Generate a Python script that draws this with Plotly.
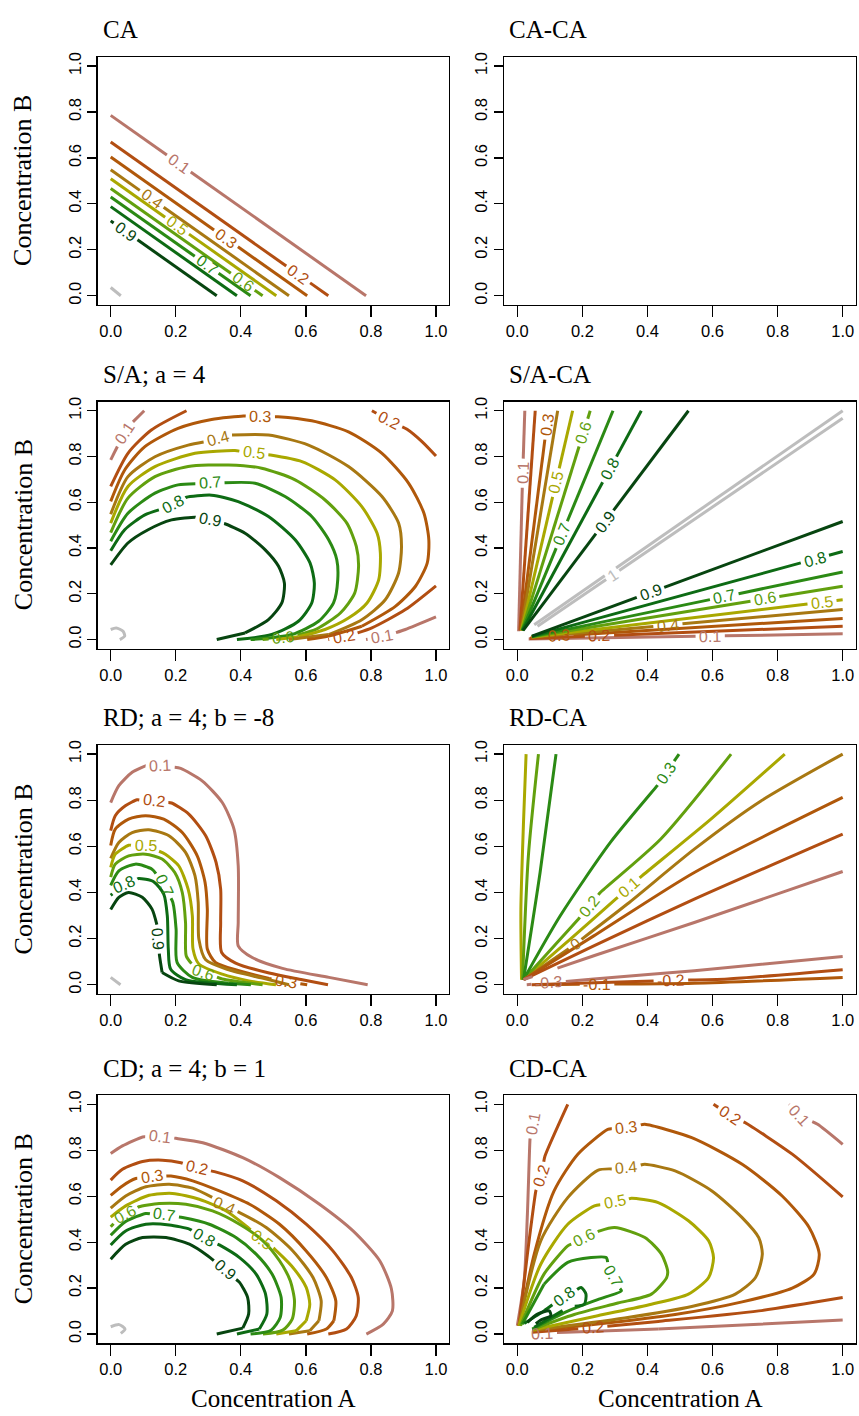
import math
import plotly.graph_objects as go

FIG_W, FIG_H = 859, 1416

# ---------------------------------------------------------------- text / axes
TITLES = ["CA", "CA-CA", "S/A; a = 4", "S/A-CA",
          "RD; a = 4; b = -8", "RD-CA", "CD; a = 4; b = 1", "CD-CA"]
TICK_VALUES = [0.0, 0.2, 0.4, 0.6, 0.8, 1.0]
TICK_LABELS = ["0.0", "0.2", "0.4", "0.6", "0.8", "1.0"]
X_TITLE = "Concentration A"
Y_TITLE = "Concentration B"

# ---------------------------------------------------------------- colours
LEVEL_COLORS = {
    "0.1": "#B8766A", "0.2": "#B24E12", "0.3": "#B0580A", "0.4": "#A87812",
    "0.5": "#A9A800", "0.6": "#62A00E", "0.7": "#2B8A14", "0.8": "#0D6B14",
    "0.9": "#074510", "1": "#BDBDBD",
}
DIFF_COLORS = {
    "-0.3": "#B8766A", "-0.2": "#B24E12", "-0.1": "#B0580A", "0": "#A87812",
    "0.1": "#A9A800", "0.2": "#62A00E", "0.3": "#2B8A14",
}

# ---------------------------------------------------------------- data (contour lines)
# each entry: (level, x values, y values)
CA_LINES = [
    ("0.1", [0.0, 0.785], [0.785, 0.0]),
    ("0.2", [0.0, 0.669], [0.669, 0.0]),
    ("0.3", [0.0, 0.604], [0.604, 0.0]),
    ("0.4", [0.0, 0.548], [0.548, 0.0]),
    ("0.5", [0.0, 0.509], [0.509, 0.0]),
    ("0.6", [0.0, 0.467], [0.467, 0.0]),
    ("0.7", [0.0, 0.430], [0.430, 0.0]),
    ("0.8", [0.0, 0.388], [0.388, 0.0]),
    ("0.9", [0.0, 0.326], [0.326, 0.0]),
    ("1", [0.0, 0.031], [0.036, 0.0]),
]
CA_LABELS = [("0.1", 0.213, 0.583), ("0.2", 0.572, 0.084), ("0.3", 0.346, 0.233),
             ("0.4", 0.115, 0.400), ("0.5", 0.202, 0.301), ("0.6", 0.403, 0.055),
             ("0.7", 0.290, 0.125), ("0.9", 0.038, 0.265)]

CACA_LINES = []
CACA_LABELS = []

SA_LINES = [
    ("0.9", [0, 0.053, 0.115, 0.187, 0.259, 0.305, 0.351, 0.413, 0.475, 0.516, 0.534, 0.526, 0.485, 0.413, 0.326],
            [0.326, 0.422, 0.480, 0.523, 0.535, 0.523, 0.506, 0.465, 0.392, 0.320, 0.247, 0.160, 0.087, 0.029, 0.0]),
    ("0.8", [0, 0.043, 0.105, 0.182, 0.233, 0.310, 0.392, 0.485, 0.567, 0.613, 0.626, 0.618, 0.577, 0.495, 0.388],
            [0.388, 0.480, 0.545, 0.584, 0.622, 0.631, 0.603, 0.538, 0.436, 0.334, 0.247, 0.160, 0.080, 0.022, 0.0]),
    ("0.7", [0, 0.053, 0.136, 0.207, 0.310, 0.444, 0.536, 0.618, 0.670, 0.695, 0.698, 0.685, 0.639, 0.557, 0.430],
            [0.430, 0.552, 0.640, 0.676, 0.686, 0.683, 0.625, 0.538, 0.436, 0.349, 0.262, 0.160, 0.080, 0.022, 0.0]),
    ("0.6", [0, 0.053, 0.136, 0.238, 0.362, 0.464, 0.567, 0.659, 0.726, 0.755, 0.762, 0.750, 0.706, 0.634, 0.557, 0.467],
            [0.467, 0.618, 0.712, 0.756, 0.763, 0.749, 0.698, 0.610, 0.509, 0.407, 0.320, 0.203, 0.116, 0.047, 0.012, 0.0]),
    ("0.5", [0, 0.053, 0.136, 0.259, 0.382, 0.490, 0.588, 0.690, 0.772, 0.819, 0.829, 0.824, 0.788, 0.731, 0.659, 0.577, 0.509],
            [0.509, 0.669, 0.756, 0.814, 0.826, 0.807, 0.778, 0.698, 0.581, 0.465, 0.378, 0.262, 0.160, 0.094, 0.044, 0.012, 0.0]),
    ("0.4", [0, 0.053, 0.136, 0.238, 0.315, 0.372, 0.485, 0.608, 0.731, 0.834, 0.885, 0.894, 0.885, 0.844, 0.772, 0.670, 0.548],
            [0.548, 0.712, 0.799, 0.850, 0.872, 0.894, 0.894, 0.850, 0.756, 0.625, 0.509, 0.407, 0.291, 0.174, 0.087, 0.022, 0.0]),
    ("0.3", [0, 0.043, 0.105, 0.207, 0.310, 0.408, 0.514, 0.618, 0.731, 0.834, 0.916, 0.963, 0.978, 0.973, 0.937, 0.875, 0.772, 0.670, 0.604],
            [0.604, 0.741, 0.843, 0.923, 0.962, 0.977, 0.974, 0.956, 0.908, 0.814, 0.683, 0.552, 0.436, 0.334, 0.233, 0.145, 0.058, 0.015, 0.0]),
    ("0.2", [0, 0.053, 0.125, 0.233], [0.669, 0.814, 0.916, 1.0]),
    ("0.2", [0.803, 0.855, 0.911, 0.957, 1.0], [1.0, 0.959, 0.919, 0.865, 0.802]),
    ("0.2", [0.669, 0.731, 0.803, 0.906, 1.0], [0.0, 0.015, 0.051, 0.131, 0.235]),
    ("0.1", [0, 0.033, 0.064, 0.103], [0.785, 0.879, 0.945, 1.0]),
    ("0.1", [0.785, 0.844, 0.906, 1.0], [0.0, 0.015, 0.044, 0.099]),
    ("1", [0, 0.017, 0.038, 0.043, 0.028], [0.044, 0.051, 0.036, 0.015, 0.0]),
]
SA_LABELS = [("0.1", 0.048, 0.894), ("0.1", 0.834, 0.012), ("0.2", 0.855, 0.955),
             ("0.2", 0.716, 0.010), ("0.3", 0.460, 0.975), ("0.4", 0.330, 0.875),
             ("0.5", 0.440, 0.815), ("0.6", 0.530, 0.010), ("0.7", 0.305, 0.686),
             ("0.8", 0.190, 0.590), ("0.9", 0.305, 0.523)]

SACA_LINES = [
    ("0.1", [0.004, 0.010, 0.023], [0.036, 0.436, 1.0]),
    ("0.2", [0.008, 0.055], [0.040, 1.0]),
    ("0.3", [0.010, 0.096], [0.040, 1.0]),
    ("0.4", [0.012, 0.124], [0.040, 1.0]),
    ("0.5", [0.013, 0.170], [0.040, 1.0]),
    ("0.6", [0.014, 0.224], [0.040, 1.0]),
    ("0.7", [0.015, 0.294], [0.040, 1.0]),
    ("0.8", [0.016, 0.381], [0.040, 1.0]),
    ("0.9", [0.018, 0.526], [0.040, 1.0]),
    ("0.9", [0.045, 1.0], [0.015, 0.516]),
    ("0.8", [0.045, 1.0], [0.014, 0.385]),
    ("0.7", [0.045, 1.0], [0.013, 0.295]),
    ("0.6", [0.045, 1.0], [0.012, 0.233]),
    ("0.5", [0.045, 1.0], [0.011, 0.174]),
    ("0.4", [0.043, 1.0], [0.010, 0.131]),
    ("0.3", [0.041, 1.0], [0.008, 0.092]),
    ("0.2", [0.038, 1.0], [0.005, 0.058]),
    ("0.1", [0.035, 1.0], [0.002, 0.025]),
    ("1", [0.052, 1.0], [0.065, 1.0]),
    ("1", [0.062, 1.0], [0.058, 0.967]),
]
SACA_LABELS = [("0.1", 0.021, 0.727), ("0.3", 0.086, 0.938), ("0.5", 0.127, 0.683),
               ("0.6", 0.211, 0.901), ("0.7", 0.137, 0.458), ("0.8", 0.296, 0.734),
               ("0.9", 0.273, 0.509), ("0.9", 0.412, 0.196), ("0.8", 0.918, 0.334),
               ("0.7", 0.639, 0.167), ("0.6", 0.763, 0.160), ("0.5", 0.938, 0.145),
               ("0.4", 0.464, 0.044), ("0.3", 0.129, 0.000), ("0.2", 0.253, 0.000),
               ("0.1", 0.593, 0.000), ("1", 0.296, 0.276)]

RD_LINES = [
    ("0.1", [0, 0.025, 0.066, 0.107, 0.158, 0.215, 0.281, 0.343, 0.379, 0.392, 0.392, 0.392, 0.435, 0.528, 0.671, 0.790],
            [0.790, 0.863, 0.921, 0.949, 0.952, 0.938, 0.884, 0.790, 0.675, 0.516, 0.270, 0.169, 0.118, 0.071, 0.032, 0.0]),
    ("0.2", [0, 0.014, 0.045, 0.081, 0.132, 0.187, 0.240, 0.292, 0.324, 0.338, 0.338, 0.341, 0.384, 0.487, 0.589, 0.668],
            [0.668, 0.733, 0.776, 0.802, 0.798, 0.788, 0.740, 0.646, 0.530, 0.415, 0.270, 0.140, 0.094, 0.051, 0.022, 0.0]),
    ("0.3", [0, 0.014, 0.055, 0.107, 0.163, 0.220, 0.266, 0.290, 0.297, 0.297, 0.322, 0.394, 0.487, 0.604],
            [0.604, 0.675, 0.718, 0.733, 0.718, 0.660, 0.559, 0.444, 0.328, 0.155, 0.097, 0.061, 0.027, 0.0]),
    ("0.4", [0, 0.025, 0.066, 0.117, 0.179, 0.230, 0.259, 0.269, 0.271, 0.292, 0.363, 0.466, 0.548],
            [0.548, 0.617, 0.660, 0.672, 0.646, 0.574, 0.473, 0.357, 0.198, 0.108, 0.065, 0.029, 0.0]),
    ("0.5", [0, 0.014, 0.055, 0.112, 0.168, 0.209, 0.238, 0.251, 0.253, 0.271, 0.343, 0.425, 0.508],
            [0.509, 0.566, 0.605, 0.603, 0.566, 0.516, 0.415, 0.299, 0.155, 0.090, 0.046, 0.017, 0.0]),
    ("0.6", [0, 0.014, 0.055, 0.107, 0.158, 0.197, 0.220, 0.230, 0.232, 0.261, 0.343, 0.467],
            [0.467, 0.523, 0.559, 0.566, 0.545, 0.487, 0.400, 0.270, 0.126, 0.065, 0.025, 0.0]),
    ("0.7", [0, 0.025, 0.076, 0.127, 0.163, 0.191, 0.201, 0.204, 0.251, 0.363, 0.431],
            [0.431, 0.494, 0.523, 0.501, 0.444, 0.357, 0.241, 0.097, 0.032, 0.007, 0.0]),
    ("0.8", [0, 0.035, 0.086, 0.132, 0.163, 0.174, 0.177, 0.184, 0.230, 0.388],
            [0.388, 0.429, 0.461, 0.447, 0.393, 0.299, 0.155, 0.068, 0.022, 0.0]),
    ("0.9", [0, 0.025, 0.055, 0.097, 0.127, 0.143, 0.150, 0.158, 0.209, 0.326],
            [0.326, 0.379, 0.400, 0.379, 0.328, 0.256, 0.126, 0.053, 0.017, 0.0]),
    ("1", [0, 0.030], [0.032, 0.0]),
]
RD_LABELS = [("0.1", 0.153, 0.928), ("0.2", 0.132, 0.790), ("0.3", 0.538, 0.010),
             ("0.5", 0.107, 0.595), ("0.6", 0.286, 0.061), ("0.7", 0.163, 0.430),
             ("0.8", 0.045, 0.420), ("0.9", 0.143, 0.198)]

RDCA_LINES = [
    ("0.1", [0.013, 0.011, 0.019, 0.027], [0.022, 0.328, 0.704, 1.0]),
    ("0.2", [0.016, 0.034, 0.065], [0.022, 0.559, 1.0]),
    ("0.3", [0.019, 0.070, 0.119], [0.022, 0.487, 1.0]),
    ("0.3", [0.019, 0.132, 0.286, 0.430, 0.497], [0.022, 0.299, 0.617, 0.863, 1.0]),
    ("0.2", [0.019, 0.188, 0.255, 0.441, 0.657], [0.022, 0.285, 0.400, 0.632, 1.0]),
    ("0.1", [0.019, 0.163, 0.302, 0.384, 0.595, 0.822], [0.022, 0.198, 0.371, 0.473, 0.718, 1.0]),
    ("0", [0.019, 0.178, 0.338, 0.544, 0.750, 1.0], [0.022, 0.176, 0.350, 0.588, 0.798, 1.0]),
    ("-0.1", [0.019, 0.235, 0.544, 1.0], [0.022, 0.212, 0.487, 0.812]),
    ("-0.2", [0.019, 0.235, 0.544, 1.0], [0.022, 0.169, 0.371, 0.653]),
    ("-0.3", [0.019, 0.235, 0.544, 1.0], [0.022, 0.126, 0.270, 0.491]),
    ("-0.3", [0.029, 0.235, 0.544, 1.0], [0.0, 0.025, 0.061, 0.123]),
    ("-0.2", [0.044, 0.338, 0.647, 1.0], [0.0, 0.013, 0.025, 0.065]),
    ("-0.1", [0.055, 0.544, 1.0], [0.0, 0.007, 0.032]),
]
RDCA_LABELS = [("0.3", 0.461, 0.913), ("0.2", 0.230, 0.330), ("0.1", 0.343, 0.420),
               ("0", 0.178, 0.176), ("-0.1", 0.245, 0.000), ("-0.2", 0.472, 0.015),
               ("-0.3", 0.096, 0.010)]

CD_LINES = [
    ("0.1", [0, 0.036, 0.098, 0.149, 0.200, 0.283, 0.406, 0.519, 0.642, 0.745, 0.827, 0.863, 0.866, 0.838, 0.786],
            [0.786, 0.819, 0.858, 0.862, 0.852, 0.833, 0.768, 0.681, 0.565, 0.449, 0.319, 0.196, 0.101, 0.043, 0.0]),
    ("0.2", [0, 0.036, 0.098, 0.159, 0.216, 0.262, 0.319, 0.406, 0.509, 0.601, 0.683, 0.740, 0.761, 0.755, 0.725, 0.669],
            [0.670, 0.717, 0.751, 0.757, 0.746, 0.725, 0.707, 0.667, 0.580, 0.478, 0.362, 0.246, 0.159, 0.080, 0.022, 0.0]),
    ("0.3", [0, 0.036, 0.077, 0.128, 0.185, 0.252, 0.334, 0.427, 0.519, 0.601, 0.663, 0.692, 0.686, 0.663, 0.604],
            [0.604, 0.645, 0.677, 0.688, 0.688, 0.667, 0.623, 0.565, 0.478, 0.362, 0.246, 0.145, 0.058, 0.022, 0.0]),
    ("0.4", [0, 0.046, 0.108, 0.180, 0.252, 0.313, 0.344, 0.396, 0.478, 0.560, 0.622, 0.647, 0.640, 0.612, 0.548],
            [0.548, 0.601, 0.641, 0.652, 0.635, 0.594, 0.562, 0.529, 0.464, 0.362, 0.246, 0.145, 0.058, 0.014, 0.0]),
    ("0.5", [0, 0.046, 0.118, 0.190, 0.272, 0.355, 0.416, 0.457, 0.504, 0.560, 0.601, 0.612, 0.601, 0.570, 0.509],
            [0.509, 0.558, 0.604, 0.612, 0.587, 0.536, 0.471, 0.420, 0.370, 0.290, 0.203, 0.130, 0.058, 0.014, 0.0]),
    ("0.6", [0, 0.026, 0.087, 0.149, 0.231, 0.313, 0.396, 0.468, 0.519, 0.552, 0.565, 0.558, 0.529, 0.468],
            [0.467, 0.507, 0.554, 0.568, 0.565, 0.536, 0.478, 0.406, 0.319, 0.232, 0.145, 0.065, 0.017, 0.0]),
    ("0.7", [0, 0.046, 0.108, 0.164, 0.221, 0.303, 0.385, 0.447, 0.496, 0.524, 0.521, 0.493, 0.430],
            [0.430, 0.490, 0.525, 0.519, 0.507, 0.478, 0.420, 0.348, 0.261, 0.159, 0.072, 0.017, 0.0]),
    ("0.8", [0, 0.046, 0.108, 0.180, 0.242, 0.288, 0.334, 0.396, 0.447, 0.476, 0.480, 0.457, 0.388],
            [0.388, 0.449, 0.478, 0.475, 0.457, 0.420, 0.388, 0.333, 0.261, 0.174, 0.087, 0.022, 0.0]),
    ("0.9", [0, 0.046, 0.098, 0.170, 0.242, 0.298, 0.349, 0.396, 0.421, 0.424, 0.406, 0.326],
            [0.326, 0.391, 0.420, 0.420, 0.391, 0.341, 0.283, 0.225, 0.159, 0.087, 0.026, 0.0]),
    ("1", [0, 0.026, 0.044, 0.031], [0.032, 0.041, 0.022, 0.003]),
]
CD_LABELS = [("0.1", 0.149, 0.843), ("0.2", 0.262, 0.710), ("0.3", 0.128, 0.670),
             ("0.4", 0.344, 0.543), ("0.5", 0.457, 0.399), ("0.6", 0.046, 0.514),
             ("0.7", 0.164, 0.507), ("0.8", 0.283, 0.406), ("0.9", 0.349, 0.275)]

CDCA_LINES = [
    ("0.1", [0.0, 0.021, 0.031, 0.039, 0.052], [0.036, 0.232, 0.522, 0.848, 0.950]),
    ("0.2", [0.005, 0.031, 0.057, 0.072, 0.085, 0.155], [0.036, 0.348, 0.623, 0.688, 0.775, 1.0]),
    ("0.3", [0.005, 0.052, 0.113, 0.186, 0.278, 0.335, 0.392, 0.536, 0.691, 0.814, 0.897, 0.928, 0.912, 0.845, 0.691, 0.485, 0.227, 0.046],
            [0.036, 0.348, 0.623, 0.783, 0.891, 0.901, 0.913, 0.855, 0.739, 0.601, 0.464, 0.348, 0.261, 0.200, 0.140, 0.085, 0.040, 0.014]),
    ("0.4", [0.005, 0.072, 0.155, 0.247, 0.335, 0.392, 0.485, 0.598, 0.691, 0.742, 0.753, 0.732, 0.670, 0.536, 0.330, 0.046],
            [0.036, 0.406, 0.594, 0.713, 0.725, 0.739, 0.710, 0.623, 0.507, 0.420, 0.348, 0.246, 0.174, 0.120, 0.070, 0.016]),
    ("0.5", [0.005, 0.072, 0.155, 0.237, 0.299, 0.351, 0.433, 0.526, 0.588, 0.603, 0.588, 0.526, 0.412, 0.247, 0.046],
            [0.036, 0.304, 0.478, 0.558, 0.575, 0.591, 0.572, 0.493, 0.406, 0.333, 0.246, 0.174, 0.130, 0.080, 0.018]),
    ("0.6", [0.010, 0.082, 0.155, 0.206, 0.253, 0.299, 0.392, 0.443, 0.462, 0.459, 0.412, 0.309, 0.175, 0.046],
            [0.036, 0.261, 0.384, 0.420, 0.449, 0.464, 0.420, 0.348, 0.275, 0.246, 0.174, 0.135, 0.085, 0.020]),
    ("0.7", [0.015, 0.082, 0.155, 0.227, 0.273, 0.290, 0.320, 0.247, 0.155, 0.046],
            [0.043, 0.217, 0.312, 0.333, 0.333, 0.260, 0.188, 0.150, 0.100, 0.022]),
    ("0.8", [0.021, 0.082, 0.144, 0.196, 0.211, 0.206, 0.155, 0.052],
            [0.046, 0.101, 0.165, 0.203, 0.174, 0.130, 0.115, 0.030]),
    ("0.9", [0.031, 0.062, 0.098, 0.103, 0.072, 0.057], [0.051, 0.087, 0.101, 0.080, 0.061, 0.045]),
    ("0.2", [0.603, 0.655, 0.701, 0.845, 1.0], [1.0, 0.952, 0.920, 0.783, 0.597]),
    ("0.1", [0.835, 0.866, 0.923, 1.0], [1.0, 0.952, 0.913, 0.826]),
    ("0.2", [0.046, 0.232, 0.433, 0.742, 1.0], [0.008, 0.028, 0.055, 0.101, 0.159]),
    ("0.1", [0.046, 0.150, 0.433, 0.742, 1.0], [0.003, 0.008, 0.022, 0.043, 0.061]),
]
CDCA_LABELS = [("0.1", 0.050, 0.913), ("0.2", 0.072, 0.688), ("0.3", 0.335, 0.901),
               ("0.4", 0.335, 0.725), ("0.5", 0.299, 0.575), ("0.6", 0.206, 0.420),
               ("0.7", 0.284, 0.246), ("0.8", 0.144, 0.165), ("0.2", 0.655, 0.952),
               ("0.1", 0.866, 0.952), ("0.2", 0.232, 0.028), ("0.1", 0.077, 0.005)]

# (lines, labels, colour map, smoothed)
PANELS = [
    (CA_LINES, CA_LABELS, LEVEL_COLORS, False), (CACA_LINES, CACA_LABELS, LEVEL_COLORS, False),
    (SA_LINES, SA_LABELS, LEVEL_COLORS, True), (SACA_LINES, SACA_LABELS, LEVEL_COLORS, False),
    (RD_LINES, RD_LABELS, LEVEL_COLORS, True), (RDCA_LINES, RDCA_LABELS, DIFF_COLORS, True),
    (CD_LINES, CD_LABELS, LEVEL_COLORS, True), (CDCA_LINES, CDCA_LABELS, LEVEL_COLORS, True),
]

# ---------------------------------------------------------------- layout geometry (pixels)
COL_X = [(97.7, 449.0), (504.3, 855.7)]
ROW_Y = [(52.0, 301.0), (398.0, 646.0), (742.5, 992.5), (1094.0, 1343.0)]
AX_RANGE = [-0.04, 1.04]
SANS = "Liberation Sans, Arial, sans-serif"
SERIF = "Liberation Serif, Times New Roman, serif"
LABEL_SIZE = 16
TICK_SIZE = 16.5
LINE_W = 3.0


def text_width(s, fs):
    w = 0.0
    for c in s:
        w += 0.556 if c.isdigit() else (0.278 if c == "." else 0.333)
    return w * fs


def snap(runs, px, py, sx, sy):
    best = None
    qx, qy = px * sx, py * sy
    for run in runs:
        for (x0, y0), (x1, y1) in zip(run[:-1], run[1:]):
            ax, ay, bx, by = x0 * sx, y0 * sy, x1 * sx, y1 * sy
            dx, dy = bx - ax, by - ay
            L2 = dx * dx + dy * dy
            t = 0.0 if L2 == 0 else max(0.0, min(1.0, ((qx - ax) * dx + (qy - ay) * dy) / L2))
            cx, cy = ax + t * dx, ay + t * dy
            d = (cx - qx) ** 2 + (cy - qy) ** 2
            if best is None or d < best[0]:
                best = (d, cx / sx, cy / sy, dx, dy)
    return best


def cut_runs(runs, cx, cy, r, sx, sy):
    out = []
    for run in runs:
        cur = []
        for (x0, y0), (x1, y1) in zip(run[:-1], run[1:]):
            ax, ay = (x0 - cx) * sx, (y0 - cy) * sy
            bx, by = (x1 - cx) * sx, (y1 - cy) * sy
            dx, dy = bx - ax, by - ay
            A = dx * dx + dy * dy
            B = 2 * (ax * dx + ay * dy)
            C = ax * ax + ay * ay - r * r
            pieces = []
            if A < 1e-12:
                pieces = [(0.0, 1.0)] if C > 0 else []
            else:
                disc = B * B - 4 * A * C
                if disc <= 0:
                    pieces = [(0.0, 1.0)]
                else:
                    s = math.sqrt(disc)
                    t1, t2 = (-B - s) / (2 * A), (-B + s) / (2 * A)
                    if t1 > 0:
                        pieces.append((0.0, min(t1, 1.0)))
                    if t2 < 1:
                        pieces.append((max(t2, 0.0), 1.0))
            for ta, tb in pieces:
                if tb - ta <= 1e-9:
                    continue
                pa = (x0 + (x1 - x0) * ta, y0 + (y1 - y0) * ta)
                pb = (x0 + (x1 - x0) * tb, y0 + (y1 - y0) * tb)
                if ta == 0.0 and cur and cur[-1] == (x0, y0):
                    cur.append(pb)
                else:
                    if len(cur) >= 2:
                        out.append(cur)
                    cur = [pa, pb]
            if not pieces or pieces[-1][1] < 1.0:
                if len(cur) >= 2:
                    out.append(cur)
                cur = []
        if len(cur) >= 2:
            out.append(cur)
    return out


fig = go.Figure()
annotations = []
layout = {}

for i, (lines, labels, colors, smooth) in enumerate(PANELS):
    n = i + 1
    row, col = i // 2, i % 2
    x0, x1 = COL_X[col]
    yt, yb = ROW_Y[row]
    sx = (x1 - x0) / (AX_RANGE[1] - AX_RANGE[0])
    sy = (yb - yt) / (AX_RANGE[1] - AX_RANGE[0])
    xname = "xaxis" if n == 1 else f"xaxis{n}"
    yname = "yaxis" if n == 1 else f"yaxis{n}"
    xref = "x" if n == 1 else f"x{n}"
    yref = "y" if n == 1 else f"y{n}"

    axis_common = dict(range=AX_RANGE, showgrid=False, zeroline=False, showline=True,
                       mirror=True, linecolor="black", linewidth=1.3, ticks="outside",
                       tickcolor="black", tickwidth=1.3, tickvals=TICK_VALUES,
                       ticktext=TICK_LABELS, tickfont=dict(family=SANS, size=TICK_SIZE, color="black"),
                       fixedrange=True)
    layout[xname] = dict(axis_common, domain=[x0 / FIG_W, x1 / FIG_W], anchor=yref, ticklen=11)
    layout[yname] = dict(axis_common, domain=[1 - yb / FIG_H, 1 - yt / FIG_H], anchor=xref,
                         ticklen=9, tickangle=-90)

    # make sure every subplot (also the empty one) is drawn
    fig.add_trace(go.Scatter(x=[None], y=[None], mode="lines", xaxis=xref, yaxis=yref,
                             hoverinfo="skip", showlegend=False))

    pieces = {}
    order = []
    for lev, xs, ys in lines:
        if lev not in pieces:
            pieces[lev] = []
            order.append(lev)
        pieces[lev].append(list(zip(xs, ys)))

    for text, lx, ly in labels:
        runs = pieces[text]
        _, cx, cy, dx, dy = snap(runs, lx, ly, sx, sy)
        ang = math.degrees(math.atan2(-dy, dx))
        if ang > 90:
            ang -= 180
        if ang <= -90:
            ang += 180
        r = text_width(text, LABEL_SIZE) / 2 + 3.5
        pieces[text] = cut_runs(runs, cx, cy, r, sx, sy)
        annotations.append(dict(x=cx, y=cy, xref=xref, yref=yref, text=text, showarrow=False,
                                textangle=ang, xanchor="center", yanchor="middle",
                                font=dict(family=SANS, size=LABEL_SIZE, color=colors[text])))

    for lev in order:
        for run in pieces[lev]:
            line = dict(color=colors[lev], width=LINE_W)
            if smooth and len(run) > 2:
                line.update(shape="spline", smoothing=0.7)
            fig.add_trace(go.Scatter(x=[p[0] for p in run], y=[p[1] for p in run], mode="lines",
                                     xaxis=xref, yaxis=yref, line=line,
                                     hoverinfo="skip", showlegend=False))

    annotations.append(dict(x=(x0 + 3) / FIG_W, y=1 - (yt - 27) / FIG_H, xref="paper", yref="paper",
                            text=TITLES[i], showarrow=False, xanchor="left", yanchor="middle",
                            font=dict(family=SERIF, size=25, color="black")))
    if col == 0:
        annotations.append(dict(x=23 / FIG_W, y=1 - ((yt + yb) / 2) / FIG_H, xref="paper", yref="paper",
                                text=Y_TITLE, showarrow=False, textangle=-90, xanchor="center",
                                yanchor="middle", font=dict(family=SERIF, size=26, color="black")))
    if row == 3:
        annotations.append(dict(x=((x0 + x1) / 2) / FIG_W, y=1 - 1398 / FIG_H, xref="paper", yref="paper",
                                text=X_TITLE, showarrow=False, xanchor="center", yanchor="middle",
                                font=dict(family=SERIF, size=25, color="black")))

fig.update_layout(width=FIG_W, height=FIG_H, margin=dict(l=0, r=0, t=0, b=0),
                  plot_bgcolor="white", paper_bgcolor="white", showlegend=False,
                  annotations=annotations, **layout)

fig.write_html("out.html", config={"displayModeBar": False, "staticPlot": True},
               post_script="document.body.style.margin='0px';document.body.style.overflow='hidden';")
